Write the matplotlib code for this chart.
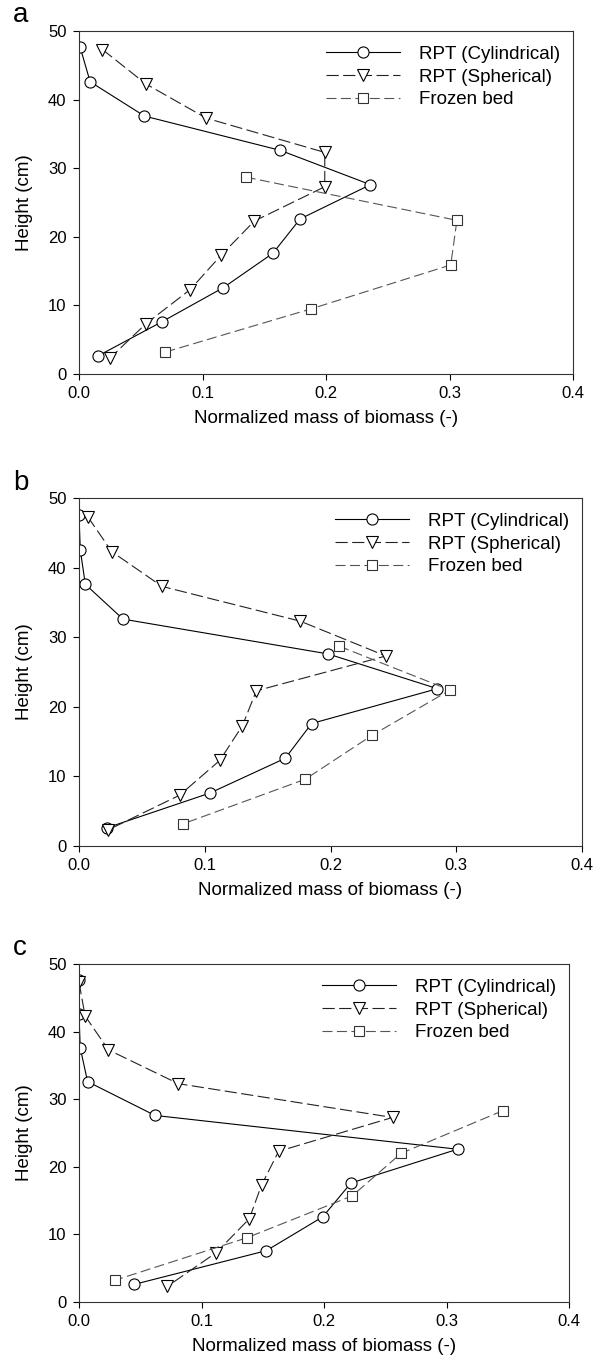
import matplotlib.pyplot as plt

plt.rcParams['font.family'] = ['Liberation Sans', 'DejaVu Sans']

heights_cyl = [47.6, 42.6, 37.6, 32.6, 27.6, 22.6, 17.6, 12.6, 7.6, 2.6]
heights_sph = [47.3, 42.3, 37.3, 32.3, 27.3, 22.3, 17.3, 12.3, 7.3, 2.3]

# panel a
a_cyl = [0.001, 0.009, 0.053, 0.163, 0.236, 0.179, 0.157, 0.117, 0.067, 0.015]
a_sph = [0.019, 0.054, 0.103, 0.199, 0.199, 0.142, 0.115, 0.090, 0.054, 0.025]
a_frz_x = [0.135, 0.306, 0.301, 0.188, 0.070]
a_frz_y = [28.7, 22.4, 15.9, 9.5, 3.2]

# panel b
b_cyl = [0.0, 0.001, 0.005, 0.035, 0.198, 0.285, 0.185, 0.164, 0.104, 0.022]
b_sph = [0.007, 0.026, 0.066, 0.176, 0.244, 0.141, 0.130, 0.112, 0.080, 0.023]
b_frz_x = [0.207, 0.295, 0.233, 0.180, 0.083]
b_frz_y = [28.7, 22.4, 15.9, 9.6, 3.2]

# panel c
c_cyl = [0.0, 0.0, 0.001, 0.007, 0.062, 0.309, 0.222, 0.199, 0.153, 0.045]
c_sph = [0.0, 0.005, 0.024, 0.081, 0.256, 0.163, 0.149, 0.139, 0.112, 0.072]
c_frz_x = [0.346, 0.263, 0.223, 0.137, 0.029]
c_frz_y = [28.3, 22.0, 15.7, 9.5, 3.2]

W, H = 611.0, 1367.0
# (label, left, right, top, bottom) in pixels, label baseline y
panels = [
    ('a', (79, 573, 31, 374), a_cyl, a_sph, a_frz_x, a_frz_y, 22),
    ('b', (79, 582, 498, 846), b_cyl, b_sph, b_frz_x, b_frz_y, 490),
    ('c', (79, 569, 964, 1302), c_cyl, c_sph, c_frz_x, c_frz_y, 955),
]

fig = plt.figure(figsize=(6.11, 13.67), dpi=100)

for label, (l, r, t, b), cyl, sph, fx, fy, ly in panels:
    ax = fig.add_axes([l / W, 1 - b / H, (r - l) / W, (b - t) / H])
    mk = dict(markersize=8, markerfacecolor='white', markeredgewidth=0.8)
    ax.plot(cyl, heights_cyl, '-', color='black', lw=0.8, marker='o',
            markeredgecolor='black', label='RPT (Cylindrical)', **mk)
    ax.plot(sph, heights_sph, color='#222222', lw=0.8, dashes=(11, 4), marker='v',
            markeredgecolor='black', label='RPT (Spherical)', **mk)
    ax.plot(fx, fy, color='#555555', lw=0.8, dashes=(9, 4), marker='s',
            markeredgecolor='#333333', label='Frozen bed',
            markersize=7.5, markerfacecolor='white', markeredgewidth=0.8)

    ax.set_xlim(0, 0.4)
    ax.set_ylim(0, 50)
    ax.set_xticks([0.0, 0.1, 0.2, 0.3, 0.4])
    ax.set_yticks([0, 10, 20, 30, 40, 50])
    ax.xaxis.set_major_formatter(plt.FormatStrFormatter('%.1f'))
    ax.tick_params(direction='out', length=4, width=0.8, labelsize=12,
                   top=False, right=False, pad=5)
    for s in ax.spines.values():
        s.set_linewidth(0.8)
        s.set_color('#333333')
    ax.set_xlabel('Normalized mass of biomass (-)', fontsize=13.5, labelpad=6)
    ax.set_ylabel('Height (cm)', fontsize=13.5, labelpad=11)
    ax.legend(loc='upper right', bbox_to_anchor=(1.0, 0.995), frameon=False,
              fontsize=13.5, handlelength=3.95, handletextpad=1.0, numpoints=1,
              labelspacing=0.3, borderaxespad=0.3)
    fig.text(13 / W, 1 - ly / H, label, fontsize=20, va='baseline', ha='left')

fig.savefig('out.png', dpi=100)
